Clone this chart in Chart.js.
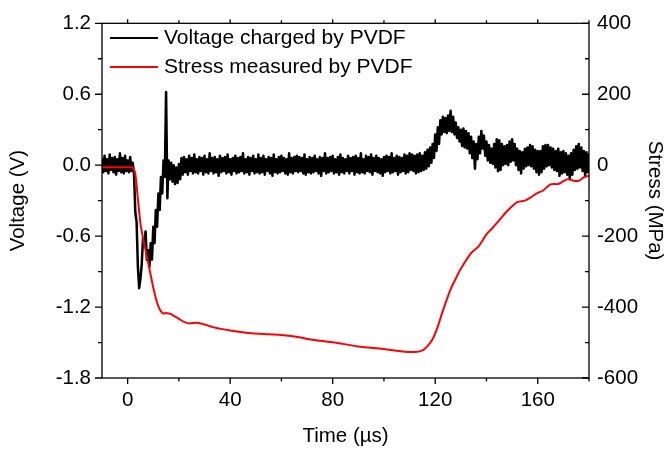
<!DOCTYPE html>
<html>
<head>
<meta charset="utf-8">
<script src="https://cdn.jsdelivr.net/npm/chart.js"></script>
<style>
  html, body { margin: 0; padding: 0; background: #fff; }
  #wrap { width: 667px; height: 449px; }
</style>
</head>
<body>
<div id="wrap"><canvas id="myChart" width="667" height="449"></canvas></div>
<script>
//---------------data:
const timestart = -10; // µs, voltage trace read every 0.5 µs
const timestep = 0.5;
const voltage = [
  // -10 .. 2
  0.06, -0.06, 0.08, -0.05, 0.05, -0.07, 0.09, -0.04, 0.06, -0.06, 0.07, -0.08, 0.05, -0.05, 0.10, -0.06, 0.06, -0.07, 0.08, -0.05, 0.04, -0.06, 0.07, -0.05, 0.02,
  // 2.5 .. 21.5 (the dip and the spike)
  -0.08, -0.40, -0.48, -0.86, -1.04, -0.96, -0.84, -0.62, -0.66, -0.56, -0.80, -0.72, -0.86,
  -0.66, -0.80, -0.52, -0.66, -0.38, -0.52, -0.24, -0.38, -0.10, -0.24, 0.04, -0.10, 0.62, -0.28,
  0.04, -0.12, 0.02, -0.14, 0.00, -0.16, -0.02, -0.15, 0.01, -0.12, 0.06, -0.08,
  // 22 .. 111.5
  0.07, -0.06, 0.05, -0.08, 0.08, -0.05, 0.06, -0.07, 0.09, -0.06,
  0.05, -0.07, 0.07, -0.05, 0.06, -0.08, 0.08, -0.06, 0.05, -0.07,
  0.10, -0.05, 0.06, -0.07, 0.07, -0.06, 0.05, -0.09, 0.08, -0.06,
  0.06, -0.05, 0.07, -0.07, 0.09, -0.06, 0.05, -0.08, 0.06, -0.05,
  0.08, -0.07, 0.06, -0.06, 0.07, -0.05, 0.10, -0.07, 0.05, -0.06,
  0.07, -0.08, 0.06, -0.05, 0.08, -0.07, 0.05, -0.06, 0.09, -0.07,
  0.06, -0.06, 0.08, -0.08, 0.05, -0.05, 0.07, -0.07, 0.06, -0.09,
  0.09, -0.06, 0.05, -0.07, 0.07, -0.06, 0.08, -0.05, 0.06, -0.07,
  0.05, -0.08, 0.10, -0.06, 0.06, -0.07, 0.07, -0.05, 0.08, -0.06,
  0.07, -0.05, 0.06, -0.07, 0.09, -0.08, 0.05, -0.06, 0.07, -0.07,
  0.06, -0.06, 0.08, -0.05, 0.05, -0.07, 0.07, -0.09, 0.06, -0.05,
  0.10, -0.07, 0.06, -0.06, 0.07, -0.05, 0.08, -0.07, 0.05, -0.06,
  0.07, -0.08, 0.09, -0.06, 0.06, -0.07, 0.05, -0.05, 0.08, -0.07,
  0.06, -0.05, 0.07, -0.08, 0.08, -0.06, 0.06, -0.07, 0.10, -0.06,
  0.05, -0.07, 0.08, -0.05, 0.07, -0.06, 0.09, -0.08, 0.06, -0.05,
  0.08, -0.06, 0.06, -0.07, 0.05, -0.09, 0.07, -0.06, 0.08, -0.05,
  0.07, -0.07, 0.10, -0.06, 0.06, -0.05, 0.08, -0.08, 0.07, -0.06,
  0.06, -0.05, 0.09, -0.07, 0.08, -0.06, 0.10, -0.04, 0.09, -0.05,
  // 112 .. 180 (reflected wave)
  0.08, -0.07, 0.09, -0.06, 0.10, -0.05, 0.08, -0.04, 0.11, -0.03,
  0.13, -0.01, 0.15, 0.02, 0.18, 0.06, 0.26, 0.12, 0.32, 0.18,
  0.38, 0.26, 0.41, 0.28, 0.40, 0.27, 0.42, 0.29, 0.46, 0.28,
  0.41, 0.26, 0.36, 0.23, 0.32, 0.20, 0.30, 0.16, 0.31, 0.15,
  0.29, 0.14, 0.27, 0.10, 0.24, 0.06, 0.20, -0.03, 0.18, 0.05,
  0.24, 0.10, 0.29, 0.14, 0.25, 0.08, 0.20, 0.04, 0.17, 0.02,
  0.14, 0.01, 0.18, -0.02, 0.22, -0.05, 0.21, -0.04, 0.18, 0.00,
  0.16, 0.01, 0.17, 0.00, 0.20, 0.03, 0.22, 0.04, 0.18, 0.00,
  0.14, -0.04, 0.12, -0.07, 0.11, -0.03, 0.14, -0.01, 0.15, 0.00,
  0.17, -0.01, 0.16, -0.03, 0.13, -0.06, 0.12, -0.08, 0.12, -0.06,
  0.16, -0.03, 0.17, -0.01, 0.17, 0.00, 0.15, -0.02, 0.14, -0.04,
  0.12, -0.05, 0.14, -0.09, 0.11, -0.07, 0.12, -0.06, 0.10, -0.08,
  0.08, -0.12, 0.10, -0.08, 0.13, -0.04, 0.16, -0.03, 0.18, -0.02,
  0.15, -0.05, 0.12, -0.09, 0.11, -0.06, 0.10
];
const stresstime = [-10, 0, 2, 3, 4, 5, 6, 7, 8, 9, 10, 11, 12, 13, 14, 15, 16, 17, 18, 20, 22, 24, 27, 30, 34, 40, 47, 55, 60, 67, 70, 80, 90, 100, 106, 112, 115, 117, 119, 121, 123, 126, 128, 130, 134, 137, 140, 142, 145, 148, 152, 155, 157, 160, 162, 165, 168, 170, 172, 174, 176, 178, 180];
const stress = [-6, -6, -7, -25, -95, -165, -205, -240, -275, -310, -345, -375, -398, -412, -418, -417, -418, -420, -425, -433, -442, -446, -444, -449, -458, -466, -473, -477, -479, -485, -490, -499, -511, -518, -524, -527, -522, -510, -490, -455, -410, -350, -320, -292, -248, -228, -195, -180, -155, -130, -104, -100, -92, -78, -72, -54, -53, -45, -39, -44, -44, -34, -30];

const timeticks = [0, 40, 80, 120, 160];
const timeminor = [20, 60, 100, 140, 180];
const voltticks = [-1.8, -1.2, -0.6, 0, 0.6, 1.2];
const voltminor = [-1.5, -0.9, -0.3, 0.3, 0.9];
const stressticks = [-600, -400, -200, 0, 200, 400];
const stressminor = [-500, -300, -100, 100, 300];
const serieslabels = ["Voltage charged by PVDF", "Stress measured by PVDF"];

//---------------building points:
function voltagepoints() {
  let pts = [];
  for (let i = 0; i < voltage.length; i++) {
    pts.push({ x: timestart + i * timestep, y: voltage[i] });
  }
  return pts;
}
function stresspoints() {
  let pts = [];
  for (let i = 0; i < stresstime.length; i++) {
    pts.push({ x: stresstime[i], y: stress[i] });
  }
  return pts;
}

//---------------frame, ticks and legend (origin style)
const frameplugin = {
  id: "frame",
  afterDraw(chart) {
    const ctx = chart.ctx;
    const a = chart.chartArea;
    const sx = chart.scales.x, sy = chart.scales.y, sr = chart.scales.y1;
    ctx.save();
    ctx.strokeStyle = "#000";
    ctx.lineWidth = 1.3;
    ctx.strokeRect(a.left, a.top, a.right - a.left, a.bottom - a.top);
    ctx.beginPath();
    function tick(x1, y1, x2, y2) { ctx.moveTo(x1, y1); ctx.lineTo(x2, y2); }
    timeticks.forEach((v) => {
      let p = sx.getPixelForValue(v);
      tick(p, a.bottom, p, a.bottom + 6);
      tick(p, a.top, p, a.top - 4);
    });
    timeminor.forEach((v) => {
      let p = sx.getPixelForValue(v);
      tick(p, a.bottom, p, a.bottom + 3.5);
      tick(p, a.top, p, a.top - 3);
    });
    voltticks.forEach((v) => { let p = sy.getPixelForValue(v); tick(a.left, p, a.left - 7, p); });
    voltminor.forEach((v) => { let p = sy.getPixelForValue(v); tick(a.left, p, a.left - 4, p); });
    stressticks.forEach((v) => { let p = sr.getPixelForValue(v); tick(a.right, p, a.right - 7, p); });
    stressminor.forEach((v) => { let p = sr.getPixelForValue(v); tick(a.right, p, a.right - 4, p); });
    ctx.stroke();

    // legend
    const colors = ["#000000", "#ff0000"];
    const rows = [38, 67];
    ctx.font = "21px 'Liberation Sans', Arial, sans-serif";
    ctx.textBaseline = "middle";
    ctx.textAlign = "left";
    for (let i = 0; i < serieslabels.length; i++) {
      ctx.beginPath();
      ctx.strokeStyle = colors[i];
      ctx.lineWidth = 2;
      ctx.moveTo(110, rows[i]);
      ctx.lineTo(158, rows[i]);
      ctx.stroke();
      ctx.fillStyle = "#000";
      ctx.fillText(serieslabels[i], 164, rows[i]);
    }
    ctx.restore();
  },
};

//---------------chart:
function createchart() {
  Chart.defaults.font.family = "'Liberation Sans', Arial, sans-serif";
  Chart.defaults.color = "#000";
  const ctx = document.getElementById("myChart");
  new Chart(ctx, {
    type: "line",
    data: {
      datasets: [
        {
          label: serieslabels[0],
          data: voltagepoints(),
          borderColor: "#000000",
          borderWidth: 2.5,
          borderJoinStyle: "round",
          pointRadius: 0,
          tension: 0,
          yAxisID: "y",
          order: 2,
        },
        {
          label: serieslabels[1],
          data: stresspoints(),
          borderColor: "#ff0000",
          borderWidth: 2,
          pointRadius: 0,
          tension: 0.3,
          yAxisID: "y1",
          order: 1,
        },
      ],
    },
    options: {
      responsive: false,
      animation: false,
      devicePixelRatio: 1,
      layout: { padding: { top: 18, left: 0, right: 0, bottom: 0 } },
      plugins: { legend: { display: false }, tooltip: { enabled: false } },
      scales: {
        x: {
          type: "linear",
          min: -10,
          max: 180,
          grid: { display: false, drawTicks: false },
          border: { display: false },
          afterBuildTicks: (s) => { s.ticks = timeticks.map((v) => ({ value: v })); },
          afterFit: (s) => { s.height = 71; },
          ticks: { padding: 10, font: { size: 20.5 }, maxRotation: 0 },
          title: { display: true, text: "Time (\u00b5s)", font: { size: 20.5 }, padding: { top: 0, bottom: 0 } },
        },
        y: {
          position: "left",
          min: -1.8,
          max: 1.2,
          grid: { display: false, drawTicks: false },
          border: { display: false },
          afterBuildTicks: (s) => { s.ticks = voltticks.map((v) => ({ value: v })); },
          afterFit: (s) => { s.width = 102; },
          ticks: { padding: 11, font: { size: 20.5 }, callback: (v) => v.toFixed(1) },
          title: { display: true, text: "Voltage (V)", font: { size: 20.5 }, padding: { top: 6, bottom: 0 } },
        },
        y1: {
          position: "right",
          min: -600,
          max: 400,
          grid: { display: false, drawTicks: false },
          border: { display: false },
          afterBuildTicks: (s) => { s.ticks = stressticks.map((v) => ({ value: v })); },
          afterFit: (s) => { s.width = 78; },
          ticks: { padding: 8, font: { size: 20.5 } },
          title: { display: true, text: "Stress (MPa)", font: { size: 20.5 }, padding: { top: 0, bottom: 0 } },
        },
      },
    },
    plugins: [frameplugin],
  });
}

window.onload = createchart();
</script>
</body>
</html>
